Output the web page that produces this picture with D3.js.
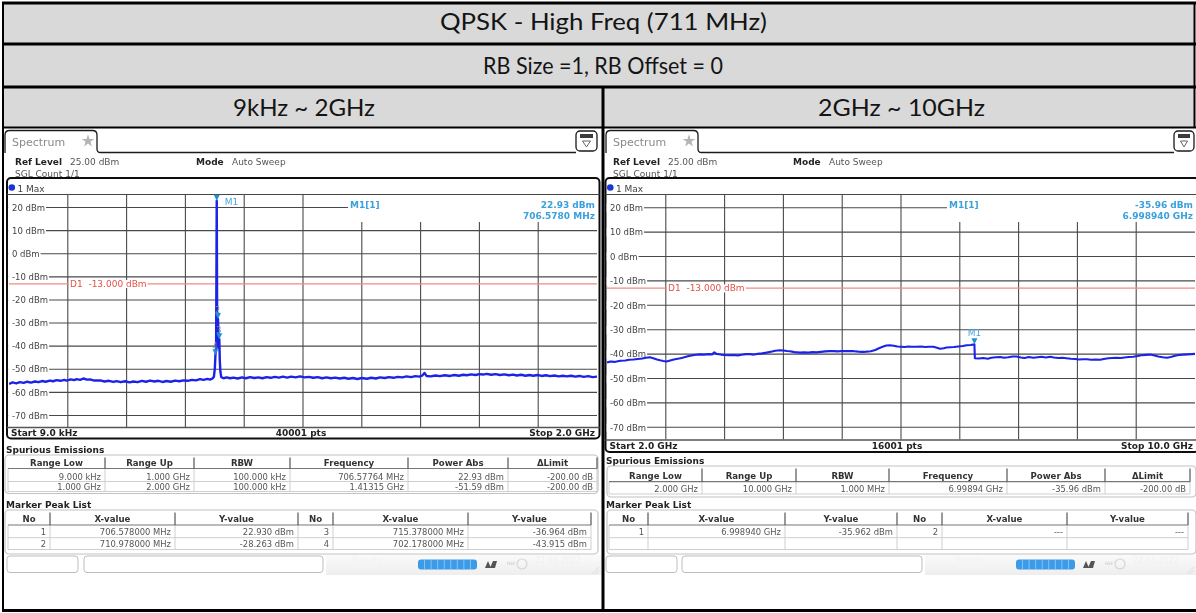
<!DOCTYPE html>
<html>
<head>
<meta charset="utf-8">
<script src="https://cdn.jsdelivr.net/npm/d3@7/dist/d3.min.js"></script>
<style>
  html, body { margin: 0; padding: 0; background: #fff; }
  svg { display: block; }
</style>
</head>
<body>
<svg id="chart" width="1196" height="613"></svg>
<script>
// ---------- captions ----------
const titleText = "QPSK - High Freq (711 MHz)";
const subtitleText = "RB Size =1, RB Offset = 0";
const bandTitles = ["9kHz ~ 2GHz", "2GHz ~ 10GHz"];

// ---------- level axis (dBm) ----------
const levelTicks = [20, 10, 0, -10, -20, -30, -40, -50, -60, -70];
const levelDomain = [-75, 25];
const limitLevel = -13;

// ---------- band 1 : 9 kHz .. 2 GHz (MHz / dBm) ----------
const band1Span = [0.009, 2000];
const band1Freq = [0.009, 12, 25, 37, 50, 62, 75, 88, 100, 112, 125, 139, 150, 162, 175, 188, 196, 210, 222, 230,
  242, 253, 265, 276, 290, 310, 325, 340, 355, 366, 380, 395, 410, 423, 437, 452, 466, 480, 495, 508,
  522, 536, 550, 565, 580, 593, 608, 622, 636, 650, 662, 675, 684, 692, 697, 700, 702.178, 704.5, 706.578, 708.2,
  710.978, 713, 715.378, 717, 719, 722, 730, 740, 752, 763, 778, 792, 806, 820, 834, 848, 862, 876, 890, 904,
  918, 932, 946, 960, 975, 990, 1005, 1020, 1035, 1050, 1065, 1080, 1095, 1110, 1125, 1140, 1155, 1170, 1185, 1200,
  1217, 1232, 1248, 1262, 1278, 1292, 1308, 1322, 1338, 1352, 1368, 1382, 1396, 1405, 1413.15, 1420, 1435, 1450, 1466, 1482,
  1500, 1515, 1530, 1545, 1557, 1572, 1587, 1600, 1612, 1625, 1640, 1655, 1670, 1685, 1700, 1715, 1727, 1742, 1757, 1770,
  1783, 1798, 1812, 1826, 1840, 1855, 1870, 1884, 1897, 1912, 1926, 1940, 1955, 1970, 1985, 2000];
const band1Level = [-56.4, -55.7, -56.1, -55.6, -55.9, -55.4, -55.8, -55.3, -55.6, -55.1, -55.4, -54.9, -55.2, -54.7, -55.0, -54.6, -54.9, -54.4, -54.7, -54.3,
  -54.6, -54.0, -54.5, -54.4, -54.9, -54.8, -55.3, -55.0, -55.5, -55.1, -55.6, -55.2, -55.7, -55.3, -55.6, -55.0, -55.4, -54.9, -55.3, -55.0,
  -55.5, -55.1, -55.4, -54.9, -55.2, -54.8, -55.0, -54.6, -54.8, -54.3, -54.6, -54.2, -54.5, -54.0, -53.2, -49.8, -43.915, -40.6, 22.93, -37.5,
  -28.263, -40.8, -36.964, -46.2, -51.0, -53.4, -53.9, -53.5, -53.9, -53.6, -54.0, -53.5, -53.9, -53.4, -53.8, -53.5, -53.9, -53.4, -53.7, -53.3,
  -53.6, -53.2, -53.6, -53.2, -53.5, -53.1, -53.5, -53.3, -53.7, -53.4, -53.9, -53.5, -53.9, -53.6, -54.0, -53.7, -54.1, -53.8, -54.2, -53.8,
  -54.1, -53.7, -54.0, -53.5, -53.8, -53.4, -53.7, -53.3, -53.5, -53.1, -53.4, -53.0, -53.2, -52.8, -51.59, -52.9, -53.1, -52.7, -53.0, -52.6,
  -52.9, -52.5, -52.8, -52.4, -52.6, -52.2, -52.5, -52.1, -52.3, -52.0, -52.4, -52.1, -52.5, -52.2, -52.6, -52.3, -52.7, -52.4, -52.8, -52.5,
  -52.8, -52.5, -52.9, -52.6, -53.0, -52.7, -53.1, -52.8, -53.1, -52.8, -53.2, -52.9, -53.3, -53.0, -53.4, -53.2];
const band1MarkerNo = [1, 2, 3, 4];
const band1MarkerFreq = [706.578, 710.978, 715.378, 702.178];
const band1MarkerLevel = [22.930, -28.263, -36.964, -43.915];
const band1PeakSlots = [[1, 3], [2, 4]];
const band1SpurRows = [
  ["9.000 kHz", "1.000 GHz", "100.000 kHz", "706.57764 MHz", "22.93 dBm", "-200.00 dB"],
  ["1.000 GHz", "2.000 GHz", "100.000 kHz", "1.41315 GHz", "-51.59 dBm", "-200.00 dB"]];

// ---------- band 2 : 2 GHz .. 10 GHz (GHz / dBm) ----------
const band2Span = [2, 10];
const band2Freq = [2.00, 2.05, 2.10, 2.18, 2.25, 2.30, 2.36, 2.42, 2.48, 2.53, 2.585, 2.63, 2.68, 2.72, 2.766, 2.81, 2.86, 2.91, 2.96, 3.00,
  3.04, 3.10, 3.15, 3.21, 3.265, 3.32, 3.38, 3.43, 3.46, 3.49, 3.55, 3.60, 3.66, 3.72, 3.78, 3.83, 3.89, 3.945, 4.00, 4.05,
  4.11, 4.17, 4.23, 4.29, 4.35, 4.40, 4.45, 4.49, 4.55, 4.626, 4.68, 4.74, 4.80, 4.85, 4.91, 4.97, 5.03, 5.08, 5.14, 5.20,
  5.25, 5.306, 5.36, 5.42, 5.48, 5.53, 5.59, 5.65, 5.70, 5.75, 5.80, 5.85, 5.90, 5.95, 6.00, 6.05, 6.10, 6.15, 6.21, 6.27,
  6.33, 6.38, 6.44, 6.49, 6.53, 6.58, 6.62, 6.67, 6.72, 6.78, 6.84, 6.894, 6.95, 6.99894, 7.005, 7.06, 7.12, 7.18, 7.23, 7.29,
  7.35, 7.40, 7.46, 7.52, 7.57, 7.63, 7.68, 7.74, 7.80, 7.86, 7.91, 7.97, 8.03, 8.08, 8.14, 8.20, 8.25, 8.31, 8.37, 8.42,
  8.48, 8.53, 8.59, 8.65, 8.71, 8.76, 8.82, 8.87, 8.93, 8.99, 9.04, 9.10, 9.16, 9.22, 9.27, 9.33, 9.39, 9.45, 9.50, 9.56,
  9.62, 9.67, 9.73, 9.78, 9.84, 9.90, 9.95, 10.0];
const band2Level = [-43.4, -43.0, -43.2, -42.7, -42.6, -42.3, -42.2, -42.0, -41.8, -41.5, -41.3, -41.7, -42.2, -42.5, -42.8, -43.0, -42.6, -42.2, -41.9, -41.7,
  -41.4, -40.9, -40.6, -40.3, -40.1, -40.2, -40.0, -40.1, -39.3, -39.9, -40.2, -40.4, -40.5, -40.4, -40.6, -40.3, -40.0, -40.0, -40.2, -39.9,
  -39.7, -39.4, -39.0, -38.6, -38.4, -38.5, -38.7, -38.8, -39.2, -39.4, -39.3, -39.4, -39.2, -39.3, -39.1, -38.9, -38.8, -38.8, -38.9, -38.7,
  -38.8, -38.7, -38.8, -39.0, -39.1, -39.0, -38.8, -38.3, -37.6, -37.0, -36.5, -36.4, -36.6, -36.9, -37.0, -37.1, -36.9, -37.0, -37.0, -36.9,
  -37.1, -37.0, -37.0, -37.4, -37.8, -37.6, -37.3, -37.2, -37.1, -36.9, -36.7, -36.4, -36.3, -35.962, -41.7, -41.8, -41.6, -41.9, -41.5, -41.3,
  -41.2, -41.5, -41.3, -41.0, -41.0, -41.4, -41.6, -41.2, -41.5, -41.3, -41.1, -41.4, -41.1, -41.4, -41.6, -41.5, -41.7, -41.9, -42.0, -42.2,
  -42.1, -42.1, -42.3, -42.2, -42.3, -42.0, -41.7, -41.6, -41.5, -41.6, -41.4, -41.2, -41.1, -40.8, -40.5, -40.3, -40.2, -40.6, -41.0, -41.3,
  -41.5, -41.2, -40.7, -40.4, -40.2, -40.1, -40.0, -39.9];
const band2MarkerNo = [1];
const band2MarkerFreq = [6.99894];
const band2MarkerLevel = [-35.962];
const band2PeakSlots = [[1, 2], [null, null]];
const band2SpurRows = [
  ["2.000 GHz", "10.000 GHz", "1.000 MHz", "6.99894 GHz", "-35.96 dBm", "-200.00 dB"]];

// ---------- table headings / status ----------
const spurHeads = ["Range Low", "Range Up", "RBW", "Frequency", "Power Abs", "\u0394Limit"];
const peakHeads = ["No", "X-value", "Y-value", "No", "X-value", "Y-value"];
const statusDate = "22.04.2022";

const FONT = "'DejaVu Sans', Verdana, sans-serif";
const svg = d3.select("#chart");
const defs = svg.append("defs");
defs.append("filter").attr("id", "soft").attr("filterUnits", "userSpaceOnUse")
  .attr("x", 0).attr("y", 0).attr("width", 1196).attr("height", 613)
  .append("feGaussianBlur").attr("stdDeviation", 0.35);

// ---------- heading bands ----------
svg.append("rect").attr("x", 3).attr("y", 3).attr("width", 1191).attr("height", 124).attr("fill", "#d9d9d9");
function heading(str, cx, base, w) {
  svg.append("text").attr("x", cx).attr("y", base).attr("text-anchor", "middle")
    .attr("font-family", "Lato, 'Open Sans', sans-serif").attr("font-size", 23.5).attr("fill", "#141414")
    .attr("textLength", w).attr("lengthAdjust", "spacingAndGlyphs").text(str);
}
heading(titleText, 603.5, 30, 327);
heading(subtitleText, 603, 74, 240);
heading(bandTitles[0], 304, 116, 142);
heading(bandTitles[1], 901.5, 116, 167);

// ---------- one analyzer screen ----------
function drawPanel(p) {
  const g = svg.append("g").attr("filter", "url(#soft)").attr("font-family", FONT);
  g.append("rect").attr("x", p.x0).attr("y", 128).attr("width", p.x1 - p.x0).attr("height", 449).attr("fill", "#fff");

  // tab, rule and menu icon
  const [ta, tb] = p.tabX, [ia, ib] = p.iconX;
  g.append("path")
    .attr("d", `M${ta},153 L${ta},135 Q${ta},130.5 ${ta + 4.5},130.5 L${tb - 4.5},130.5 Q${tb},130.5 ${tb},135 L${tb},149 Q${tb},152.5 ${tb + 3.5},152.5 L${ia},152.5`)
    .attr("fill", "none").attr("stroke", "#1a1a1a").attr("stroke-width", 1.3);
  g.append("rect").attr("x", ia).attr("y", 131).attr("width", ib - ia).attr("height", 20).attr("rx", 4)
    .attr("fill", "#fff").attr("stroke", "#1a1a1a").attr("stroke-width", 1.3);
  g.append("rect").attr("x", ia + 4).attr("y", 134).attr("width", ib - ia - 8).attr("height", 4).attr("fill", "#3a3a3a");
  g.append("path").attr("d", `M${ia + 6.5},141 L${ib - 6.5},141 L${(ia + ib) / 2},147 Z`)
    .attr("fill", "none").attr("stroke", "#666").attr("stroke-width", 1);
  g.append("text").attr("x", ta + 7).attr("y", 145.5).attr("font-size", 11).attr("fill", "#8a8a8a").text("Spectrum");
  g.append("path").attr("d", d3.symbol(d3.symbolStar, 50)()).attr("transform", `translate(${ta + 83},141)`).attr("fill", "#b4b4b4");

  // settings lines
  g.append("text").attr("x", p.refX).attr("y", 165.3).attr("font-size", 9).attr("font-weight", "bold").attr("fill", "#222").text("Ref Level");
  g.append("text").attr("x", p.refX + 55).attr("y", 165.3).attr("font-size", 9).attr("fill", "#555").text(levelDomain[1].toFixed(2) + " dBm");
  g.append("text").attr("x", p.modeX).attr("y", 165.3).attr("font-size", 9).attr("font-weight", "bold").attr("fill", "#222").text("Mode");
  g.append("text").attr("x", p.modeX + 36).attr("y", 165.3).attr("font-size", 9).attr("fill", "#555").text("Auto Sweep");
  g.append("text").attr("x", p.refX).attr("y", 177).attr("font-size", 9).attr("fill", "#555").text("SGL Count 1/1");

  // diagram frame
  const [fa, fb] = p.frameX;
  g.append("rect").attr("x", fa).attr("y", p.boxTop).attr("width", fb - fa).attr("height", p.frameBot - p.boxTop)
    .attr("rx", 4).attr("fill", "#fff").attr("stroke", "#111").attr("stroke-width", 2);
  g.append("line").attr("x1", fa).attr("x2", fb).attr("y1", p.boxBot).attr("y2", p.boxBot).attr("stroke", "#444").attr("stroke-width", 1);
  g.append("circle").attr("cx", fa + 4.8).attr("cy", 187.5).attr("r", 3.3).attr("fill", "#1a36d6");
  g.append("text").attr("x", fa + 10.5).attr("y", 192.3).attr("font-size", 9).attr("fill", "#444").text("1 Max");

  const x = d3.scaleLinear().domain(p.span).range(p.plotX);
  const y = d3.scaleLinear().domain(levelDomain).range(p.levelY);
  const divs = d3.range(1, 10).map(i => p.span[0] + i * (p.span[1] - p.span[0]) / 10);

  // grid
  g.append("g").selectAll("line").data(levelTicks).join("line")
    .attr("x1", fa + 1).attr("x2", t => t === levelTicks[0] ? p.infoX : p.plotX[1])
    .attr("y1", t => y(t)).attr("y2", t => y(t)).attr("stroke", "#4a4a4a").attr("stroke-width", 1.1);
  g.append("g").selectAll("line").data(divs).join("line")
    .attr("x1", d => x(d)).attr("x2", d => x(d))
    .attr("y1", d => x(d) > p.infoX ? 222 : p.boxBot).attr("y2", y(levelDomain[0]))
    .attr("stroke", "#4a4a4a").attr("stroke-width", 1.1);
  g.append("line").attr("x1", fa).attr("x2", fb).attr("y1", y(levelDomain[0]) + 0.5).attr("y2", y(levelDomain[0]) + 0.5)
    .attr("stroke", "#555").attr("stroke-width", 1.3);

  // limit line
  g.append("line").attr("x1", p.plotX[0]).attr("x2", p.plotX[1]).attr("y1", y(limitLevel)).attr("y2", y(limitLevel))
    .attr("stroke", "#f08a84").attr("stroke-width", 1.2);
  const lim = g.append("g");
  const limText = lim.append("text").attr("x", p.plotX[0] + 61).attr("y", y(limitLevel) + 3.2)
    .attr("font-size", 9).attr("fill", "#e2524a").attr("xml:space", "preserve")
    .text("D1  " + limitLevel.toFixed(3) + " dBm");
  const lb = limText.node().getBBox();
  lim.insert("rect", "text").attr("x", lb.x - 1).attr("y", lb.y + 1).attr("width", lb.width + 2).attr("height", lb.height - 2).attr("fill", "#fff");

  // level labels
  levelTicks.forEach(t => {
    const lg = g.append("g");
    const tx = lg.append("text").attr("x", p.plotX[0] + 3).attr("y", y(t) + 3.2).attr("font-size", 8.5).attr("fill", "#444").text(t + " dBm");
    const bb = tx.node().getBBox();
    lg.insert("rect", "text").attr("x", fa + 1.2).attr("y", bb.y + 1).attr("width", bb.x + bb.width + 1 - fa - 1.2).attr("height", bb.height - 2).attr("fill", "#fff");
  });

  // trace
  const clipId = "clip" + p.id;
  defs.append("clipPath").attr("id", clipId).append("rect")
    .attr("x", p.plotX[0]).attr("y", p.levelY[1] - 2).attr("width", p.plotX[1] - p.plotX[0]).attr("height", p.levelY[0] - p.levelY[1] + 2);
  const pts = d3.zip(p.freq, p.level);
  g.append("path").datum(pts).attr("clip-path", `url(#${clipId})`)
    .attr("d", d3.line().x(d => x(d[0])).y(d => y(d[1])))
    .attr("fill", "none").attr("stroke", "#1c22e6").attr("stroke-width", p.traceWidth).attr("stroke-linejoin", "round");

  // markers
  p.markerNo.forEach((no, i) => {
    const mx = x(p.markerFreq[i]), my = y(p.markerLevel[i]);
    g.append("path").attr("d", `M${mx - 3},${my - 6} L${mx + 3},${my - 6} L${mx},${my} Z`).attr("fill", "#1f8fd6");
    if (no === 1) {
      g.append("text").attr("x", mx + p.m1dx).attr("y", my + p.m1dy).attr("font-size", 9).attr("fill", "#4aa6de")
        .attr("text-anchor", p.m1anchor).text("M1");
    } else {
      g.append("text").attr("x", mx - 0.5).attr("y", my - 6.5).attr("font-size", 8).attr("fill", "#6f86a0")
        .attr("text-anchor", "middle").text(no);
    }
  });

  // marker readout
  const m1 = p.markerNo.indexOf(1);
  g.append("text").attr("x", p.infoX + 2).attr("y", 207.5).attr("font-size", 9).attr("font-weight", "bold").attr("fill", "#3aa0dc").text("M1[1]");
  g.append("text").attr("x", p.plotX[1] - 2).attr("y", 207.5).attr("text-anchor", "end").attr("font-size", 9).attr("font-weight", "bold")
    .attr("fill", "#3aa0dc").text(p.markerLevel[m1].toFixed(2) + " dBm");
  g.append("text").attr("x", p.plotX[1] - 2).attr("y", 219).attr("text-anchor", "end").attr("font-size", 9).attr("font-weight", "bold")
    .attr("fill", "#3aa0dc").text(p.markerFreq[m1].toFixed(p.infoDigits) + " " + p.unit);

  // sweep footer
  const fy = p.frameBot - 3;
  g.append("text").attr("x", fa + 4).attr("y", fy).attr("font-size", 9).attr("font-weight", "bold").attr("fill", "#222").text(p.startText);
  g.append("text").attr("x", p.ptsX).attr("y", fy).attr("text-anchor", "middle").attr("font-size", 9).attr("font-weight", "bold").attr("fill", "#222").text(p.ptsText);
  g.append("text").attr("x", p.plotX[1] - 2).attr("y", fy).attr("text-anchor", "end").attr("font-size", 9).attr("font-weight", "bold").attr("fill", "#222").text(p.stopText);

  // result tables
  g.append("text").attr("x", p.x0 + 2).attr("y", p.spur.title).attr("font-size", 9).attr("font-weight", "bold").attr("fill", "#222").text("Spurious Emissions");
  drawTable(g, p.spur, spurHeads, p.spurRows);
  g.append("text").attr("x", p.x0 + 2).attr("y", p.peak.title).attr("font-size", 9).attr("font-weight", "bold").attr("fill", "#222").text("Marker Peak List");
  const peakRows = p.peakSlots.map(row => {
    const cells = [];
    row.forEach(no => {
      if (no === null) { cells.push("", "", ""); return; }
      const k = p.markerNo.indexOf(no);
      if (k < 0) { cells.push(String(no), "---", "---"); return; }
      cells.push(String(no), p.markerFreq[k].toFixed(6) + " " + p.unit, p.markerLevel[k].toFixed(3) + " dBm");
    });
    return cells;
  });
  drawTable(g, p.peak, peakHeads, peakRows);

  // status bar
  drawStatus(g, p.status, p.x1);
}

function drawTable(g, t, heads, rows) {
  const c = t.cols, L = c[0], R = c[c.length - 1];
  g.append("rect").attr("x", t.box[0]).attr("y", t.box[1]).attr("width", t.box[2] - t.box[0]).attr("height", t.box[3] - t.box[1])
    .attr("rx", 4).attr("fill", "#fff").attr("stroke", "#c2c2c2").attr("stroke-width", 1.2);
  // body grid
  const bot = t.rowLines[t.rowLines.length - 1];
  t.rowLines.forEach(yy => g.append("line").attr("x1", L).attr("x2", R).attr("y1", yy).attr("y2", yy).attr("stroke", "#cfcfcf"));
  c.forEach(xx => g.append("line").attr("x1", xx).attr("x2", xx).attr("y1", t.headBot).attr("y2", bot).attr("stroke", "#cfcfcf"));
  // header
  g.append("line").attr("x1", L).attr("x2", R).attr("y1", t.headBot).attr("y2", t.headBot).attr("stroke", "#777").attr("stroke-width", 1.2);
  c.slice(1).forEach(xx => {
    g.append("line").attr("x1", xx).attr("x2", xx).attr("y1", t.headTop).attr("y2", t.headBot).attr("stroke", "#555").attr("stroke-width", 1.2);
  });
  heads.forEach((h, i) => g.append("text").attr("x", (c[i] + c[i + 1]) / 2).attr("y", t.headText).attr("text-anchor", "middle")
    .attr("font-size", 8.6).attr("font-weight", "bold").attr("fill", "#333").text(h));
  rows.forEach((r, j) => r.forEach((s, i) => g.append("text").attr("x", c[i + 1] - 4).attr("y", t.rowText[j]).attr("text-anchor", "end")
    .attr("font-size", 8.4).attr("fill", "#555").text(s)));
}

function drawStatus(g, s, x1) {
  const gid = "sb" + s.progress[0];
  const grad = defs.append("linearGradient").attr("id", gid).attr("x1", 0).attr("y1", 0).attr("x2", 0).attr("y2", 1);
  grad.append("stop").attr("offset", 0).attr("stop-color", "#fafafa");
  grad.append("stop").attr("offset", 1).attr("stop-color", "#eeeeee");
  g.append("rect").attr("x", s.box2[1] + 3).attr("y", 555).attr("width", x1 - s.box2[1] - 3).attr("height", 20).attr("fill", `url(#${gid})`);
  [s.box1, s.box2].forEach(b => g.append("rect").attr("x", b[0]).attr("y", 556).attr("width", b[1] - b[0]).attr("height", 16.5)
    .attr("rx", 3).attr("fill", "#fff").attr("stroke", "#bdbdbd").attr("stroke-width", 1));
  g.append("text").attr("x", s.ready).attr("y", 563).attr("font-size", 8.5).attr("font-weight", "bold").attr("fill", "#f4f4f4").text("Ready");
  const [pa, pb] = s.progress;
  g.append("rect").attr("x", pa).attr("y", 559.5).attr("width", pb - pa).attr("height", 10).attr("rx", 3).attr("fill", "#3b9be8");
  d3.range(1, 9).forEach(i => g.append("line").attr("x1", pa + i * (pb - pa) / 9).attr("x2", pa + i * (pb - pa) / 9)
    .attr("y1", 560).attr("y2", 569).attr("stroke", "#9fcdf4").attr("stroke-width", 0.8));
  g.append("path").attr("d", `M${pb + 8},568 L${pb + 11},561 L${pb + 14},568 Z M${pb + 13},568 L${pb + 16},561 L${pb + 20},561 L${pb + 18},568 Z`).attr("fill", "#555");
  g.append("text").attr("x", pb + 30).attr("y", 565).attr("font-size", 4.5).attr("fill", "#c8c8c8").text("REF");
  g.append("circle").attr("cx", pb + 45).attr("cy", 564).attr("r", 5).attr("fill", "none").attr("stroke", "#d6d6d6").attr("stroke-width", 1.2);
  g.append("text").attr("x", pb + 58).attr("y", 563).attr("font-size", 8).attr("fill", "#f0f0f0").text(statusDate);
  g.append("path").attr("d", `M${x1 - 9},574 L${x1 - 2},567 M${x1 - 6},574 L${x1 - 2},570`).attr("stroke", "#d8d8d8").attr("stroke-width", 0.8);
}

drawPanel({
  id: 1, x0: 4, x1: 601, tabX: [5, 97], iconX: [576, 597], refX: 15, modeX: 196,
  frameX: [7, 599.5], plotX: [9, 597], boxTop: 178, boxBot: 194.5, levelY: [427, 196], frameBot: 438.5,
  span: band1Span, freq: band1Freq, level: band1Level, unit: "MHz", infoDigits: 4, infoX: 348, traceWidth: 2.4,
  markerNo: band1MarkerNo, markerFreq: band1MarkerFreq, markerLevel: band1MarkerLevel, peakSlots: band1PeakSlots,
  m1dx: 8, m1dy: 4, m1anchor: "start",
  startText: "Start 9.0 kHz", ptsText: "40001 pts", stopText: "Stop 2.0 GHz", ptsX: 301,
  spurRows: band1SpurRows,
  spur: { title: 453.3, box: [5, 455, 598, 493.5], cols: [8, 105, 194, 290, 408, 508, 597],
          headTop: 457.5, headBot: 468.5, rowLines: [481.5, 491.5], headText: 466, rowText: [479.8, 489.8] },
  peak: { title: 508.3, box: [5, 510, 598, 554], cols: [8, 50, 175, 298, 333, 468, 591],
          headTop: 512.5, headBot: 525, rowLines: [537.7, 549.5], headText: 522.3, rowText: [535, 547] },
  status: { box1: [7, 78], box2: [84, 323], ready: 352, progress: [418, 477] }
});

drawPanel({
  id: 2, x0: 604, x1: 1196, tabX: [606, 698], iconX: [1174, 1194], refX: 613, modeX: 793,
  frameX: [605.5, 1199], plotX: [607, 1195], boxTop: 178, boxBot: 194.5, levelY: [439.5, 195.5], frameBot: 452,
  span: band2Span, freq: band2Freq, level: band2Level, unit: "GHz", infoDigits: 6, infoX: 947, traceWidth: 2.1,
  markerNo: band2MarkerNo, markerFreq: band2MarkerFreq, markerLevel: band2MarkerLevel, peakSlots: band2PeakSlots,
  m1dx: 0, m1dy: -8, m1anchor: "middle",
  startText: "Start 2.0 GHz", ptsText: "16001 pts", stopText: "Stop 10.0 GHz", ptsX: 897,
  spurRows: band2SpurRows,
  spur: { title: 464.3, box: [607, 466, 1196, 497], cols: [609, 702, 796, 889, 1007, 1105, 1190],
          headTop: 468.5, headBot: 481.7, rowLines: [494], headText: 479, rowText: [491.5] },
  peak: { title: 508.3, box: [607, 510, 1196, 554], cols: [609, 648, 785, 897, 942, 1067, 1188],
          headTop: 512.5, headBot: 525, rowLines: [537.7, 549.5], headText: 522.3, rowText: [535, 547] },
  status: { box1: [606, 677], box2: [682, 922], ready: 955, progress: [1016, 1075] }
});

// ---------- table rules ----------
const rules = svg.append("g").attr("stroke", "#000");
rules.append("line").attr("x1", 2).attr("x2", 1196).attr("y1", 3).attr("y2", 3).attr("stroke-width", 3);
rules.append("line").attr("x1", 2).attr("x2", 1196).attr("y1", 44).attr("y2", 44).attr("stroke-width", 3);
rules.append("line").attr("x1", 2).attr("x2", 1196).attr("y1", 87).attr("y2", 87).attr("stroke-width", 3);
rules.append("line").attr("x1", 2).attr("x2", 1196).attr("y1", 127.5).attr("y2", 127.5).attr("stroke-width", 2);
rules.append("line").attr("x1", 3).attr("x2", 3).attr("y1", 2).attr("y2", 612).attr("stroke-width", 2);
rules.append("line").attr("x1", 1194.5).attr("x2", 1194.5).attr("y1", 2).attr("y2", 128).attr("stroke-width", 2);
rules.append("line").attr("x1", 603).attr("x2", 603).attr("y1", 87).attr("y2", 612).attr("stroke-width", 3);
rules.append("line").attr("x1", 2).attr("x2", 1196).attr("y1", 610.5).attr("y2", 610.5).attr("stroke-width", 3);
</script>
</body>
</html>
